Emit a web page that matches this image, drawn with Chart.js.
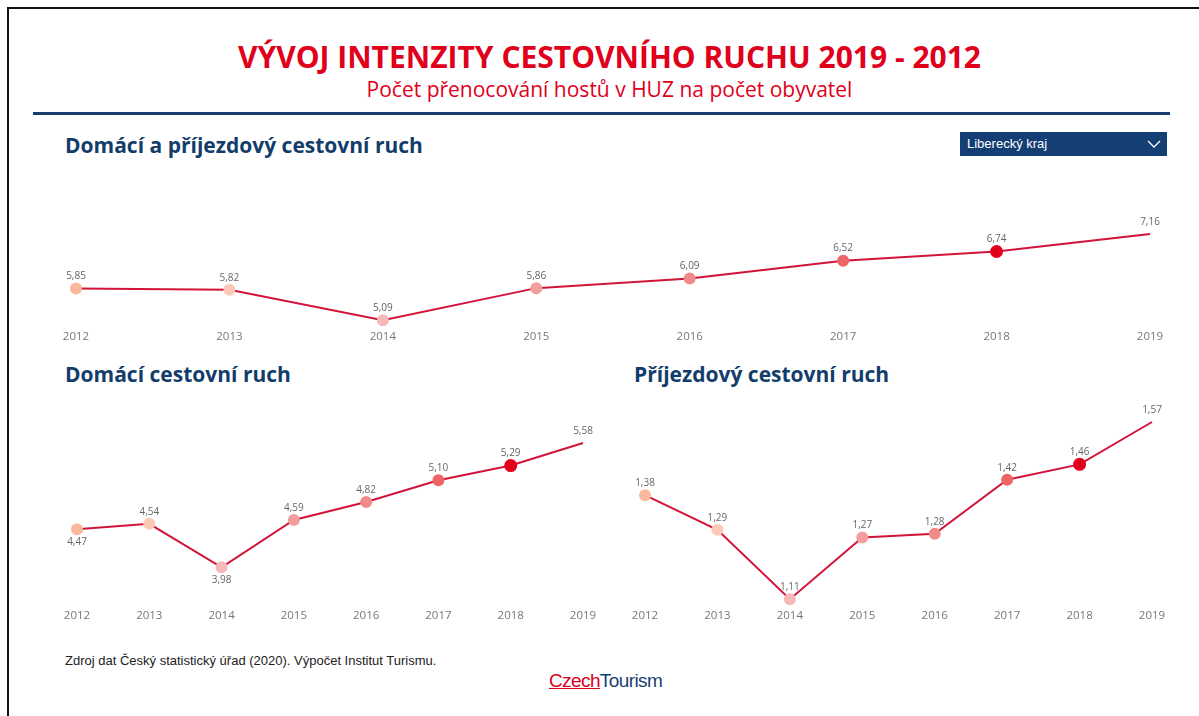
<!DOCTYPE html>
<html>
<head>
<meta charset="utf-8">
<script src="https://cdn.jsdelivr.net/npm/chart.js@4/dist/chart.umd.min.js"></script>
<style>
  body { margin: 0; width: 1199px; height: 716px; background: #fff; position: relative; overflow: hidden; font-family: "Open Sans", sans-serif; }
  .frame { position: absolute; left: 7px; top: 7px; width: 1300px; height: 800px; border: 2px solid #111; }
  .title { position: absolute; left: 0; width: 1219px; top: 39px; line-height: 36px; text-align: center; color: #e0001b; font-weight: bold; font-size: 30px; }
  .subtitle { position: absolute; left: 0; width: 1219px; top: 77px; line-height: 25px; text-align: center; color: #e0001b; font-size: 21px; }
  .rule { position: absolute; left: 33px; top: 112px; width: 1137px; height: 3px; background: #173f6e; }
  .head { position: absolute; color: #123d6a; font-weight: bold; font-size: 21px; line-height: 28px; }
  .drop { position: absolute; left: 960px; top: 132px; width: 207px; height: 24px; background: #133f74; color: #fff; font-family: "Liberation Sans", Arial, sans-serif; font-size: 13px; line-height: 24px; }
  .drop span { position: absolute; left: 7px; }
  .drop svg { position: absolute; right: 6px; top: 7px; }
  .box { position: absolute; }
  .src { position: absolute; left: 65px; top: 653px; line-height: 16px; font-family: "Liberation Sans", Arial, sans-serif; font-size: 13px; color: #222; }
  .logo { position: absolute; left: 549px; top: 670px; line-height: 22px; font-family: "Liberation Sans", Arial, sans-serif; font-size: 19px; letter-spacing: -0.6px; }
  .logo .c { color: #d9001b; text-decoration: underline; }
  .logo .t { color: #1b3f73; }
</style>
</head>
<body>
<div class="frame"></div>
<div class="title">VÝVOJ INTENZITY CESTOVNÍHO RUCHU 2019 - 2012</div>
<div class="subtitle">Počet přenocování hostů v HUZ na počet obyvatel</div>
<div class="rule"></div>
<div class="head" style="left:65px; top:131px;">Domácí a příjezdový cestovní ruch</div>
<div class="drop"><span>Liberecký kraj</span>
  <svg width="14" height="10"><polyline points="1,2 7,8 13,2" fill="none" stroke="#fff" stroke-width="1.3"/></svg>
</div>
<div class="head" style="left:65px; top:360px;">Domácí cestovní ruch</div>
<div class="head" style="left:634px; top:360px;">Příjezdový cestovní ruch</div>

<div class="box" style="left:40px; top:190px; width:1150px; height:171px;"><canvas id="chartTotal"></canvas></div>
<div class="box" style="left:40px; top:400px; width:570px; height:241px;"><canvas id="chartDomestic"></canvas></div>
<div class="box" style="left:610px; top:400px; width:580px; height:241px;"><canvas id="chartInbound"></canvas></div>

<div class="src">Zdroj dat Český statistický úřad (2020). Výpočet Institut Turismu.</div>
<div class="logo"><span class="c">Czech</span><span class="t">Tourism</span></div>

<script>
const years = ["2012", "2013", "2014", "2015", "2016", "2017", "2018", "2019"];
const totalValues = [5.85, 5.82, 5.09, 5.86, 6.09, 6.52, 6.74, 7.16];
const domesticValues = [4.47, 4.54, 3.98, 4.59, 4.82, 5.10, 5.29, 5.58];
const inboundValues = [1.38, 1.29, 1.11, 1.27, 1.28, 1.42, 1.46, 1.57];

// marker colours per year (2019 has no marker)
const pointColors = ["#f9b89c", "#fbc9b6", "#f7b8b8", "#f49d9d", "#f18a8a", "#ee6767", "#e3001d", "rgba(0,0,0,0)"];
const pointSizes = [5, 5, 5, 5, 5, 5, 5.5, 0];

const fmt = v => v.toFixed(2).replace(".", ",");

const valueLabels = {
  id: "valueLabels",
  afterDatasetsDraw(chart) {
    const ctx = chart.ctx;
    const ds = chart.data.datasets[0];
    const below = ds.labelsBelow || [];
    chart.getDatasetMeta(0).data.forEach((pt, i) => {
      ctx.save();
      ctx.font = "10px 'Open Sans', sans-serif";
      ctx.fillStyle = "#666";
      ctx.textAlign = "center";
      ctx.textBaseline = "middle";
      const dy = below.includes(i) ? 13 : -12;
      ctx.fillText(fmt(ds.data[i]), pt.x, pt.y + dy);
      ctx.restore();
    });
  }
};

function makeChart(id, values, pad, yMin, labelsBelow) {
  new Chart(document.getElementById(id), {
    type: "line",
    data: {
      labels: years,
      datasets: [{
        data: values,
        borderColor: "#d2143a",
        borderWidth: 2,
        pointBackgroundColor: pointColors,
        pointBorderColor: pointColors,
        pointRadius: pointSizes,
        tension: 0,
        clip: false,
        labelsBelow: labelsBelow
      }]
    },
    options: {
      responsive: true,
      maintainAspectRatio: false,
      animation: false,
      layout: { padding: pad },
      plugins: { legend: { display: false }, tooltip: { enabled: false } },
      scales: {
        x: {
          offset: false,
          grid: { display: false, drawTicks: false },
          border: { display: false },
          ticks: { color: "#777", font: { size: 11.5, family: "'Open Sans', sans-serif" }, padding: 10, maxRotation: 0 }
        },
        y: {
          display: false,
          min: yMin,
          max: Math.max(...values)
        }
      }
    },
    plugins: [valueLabels]
  });
}

makeChart("chartTotal", totalValues, { left: 36, right: 40, top: 44, bottom: 7 }, Math.min(...totalValues), []);
makeChart("chartDomestic", domesticValues, { left: 37, right: 27, top: 43, bottom: 8 }, 3.57, [0, 2]);
makeChart("chartInbound", inboundValues, { left: 35, right: 38, top: 22, bottom: 8 }, Math.min(...inboundValues), []);
</script>
</body>
</html>
